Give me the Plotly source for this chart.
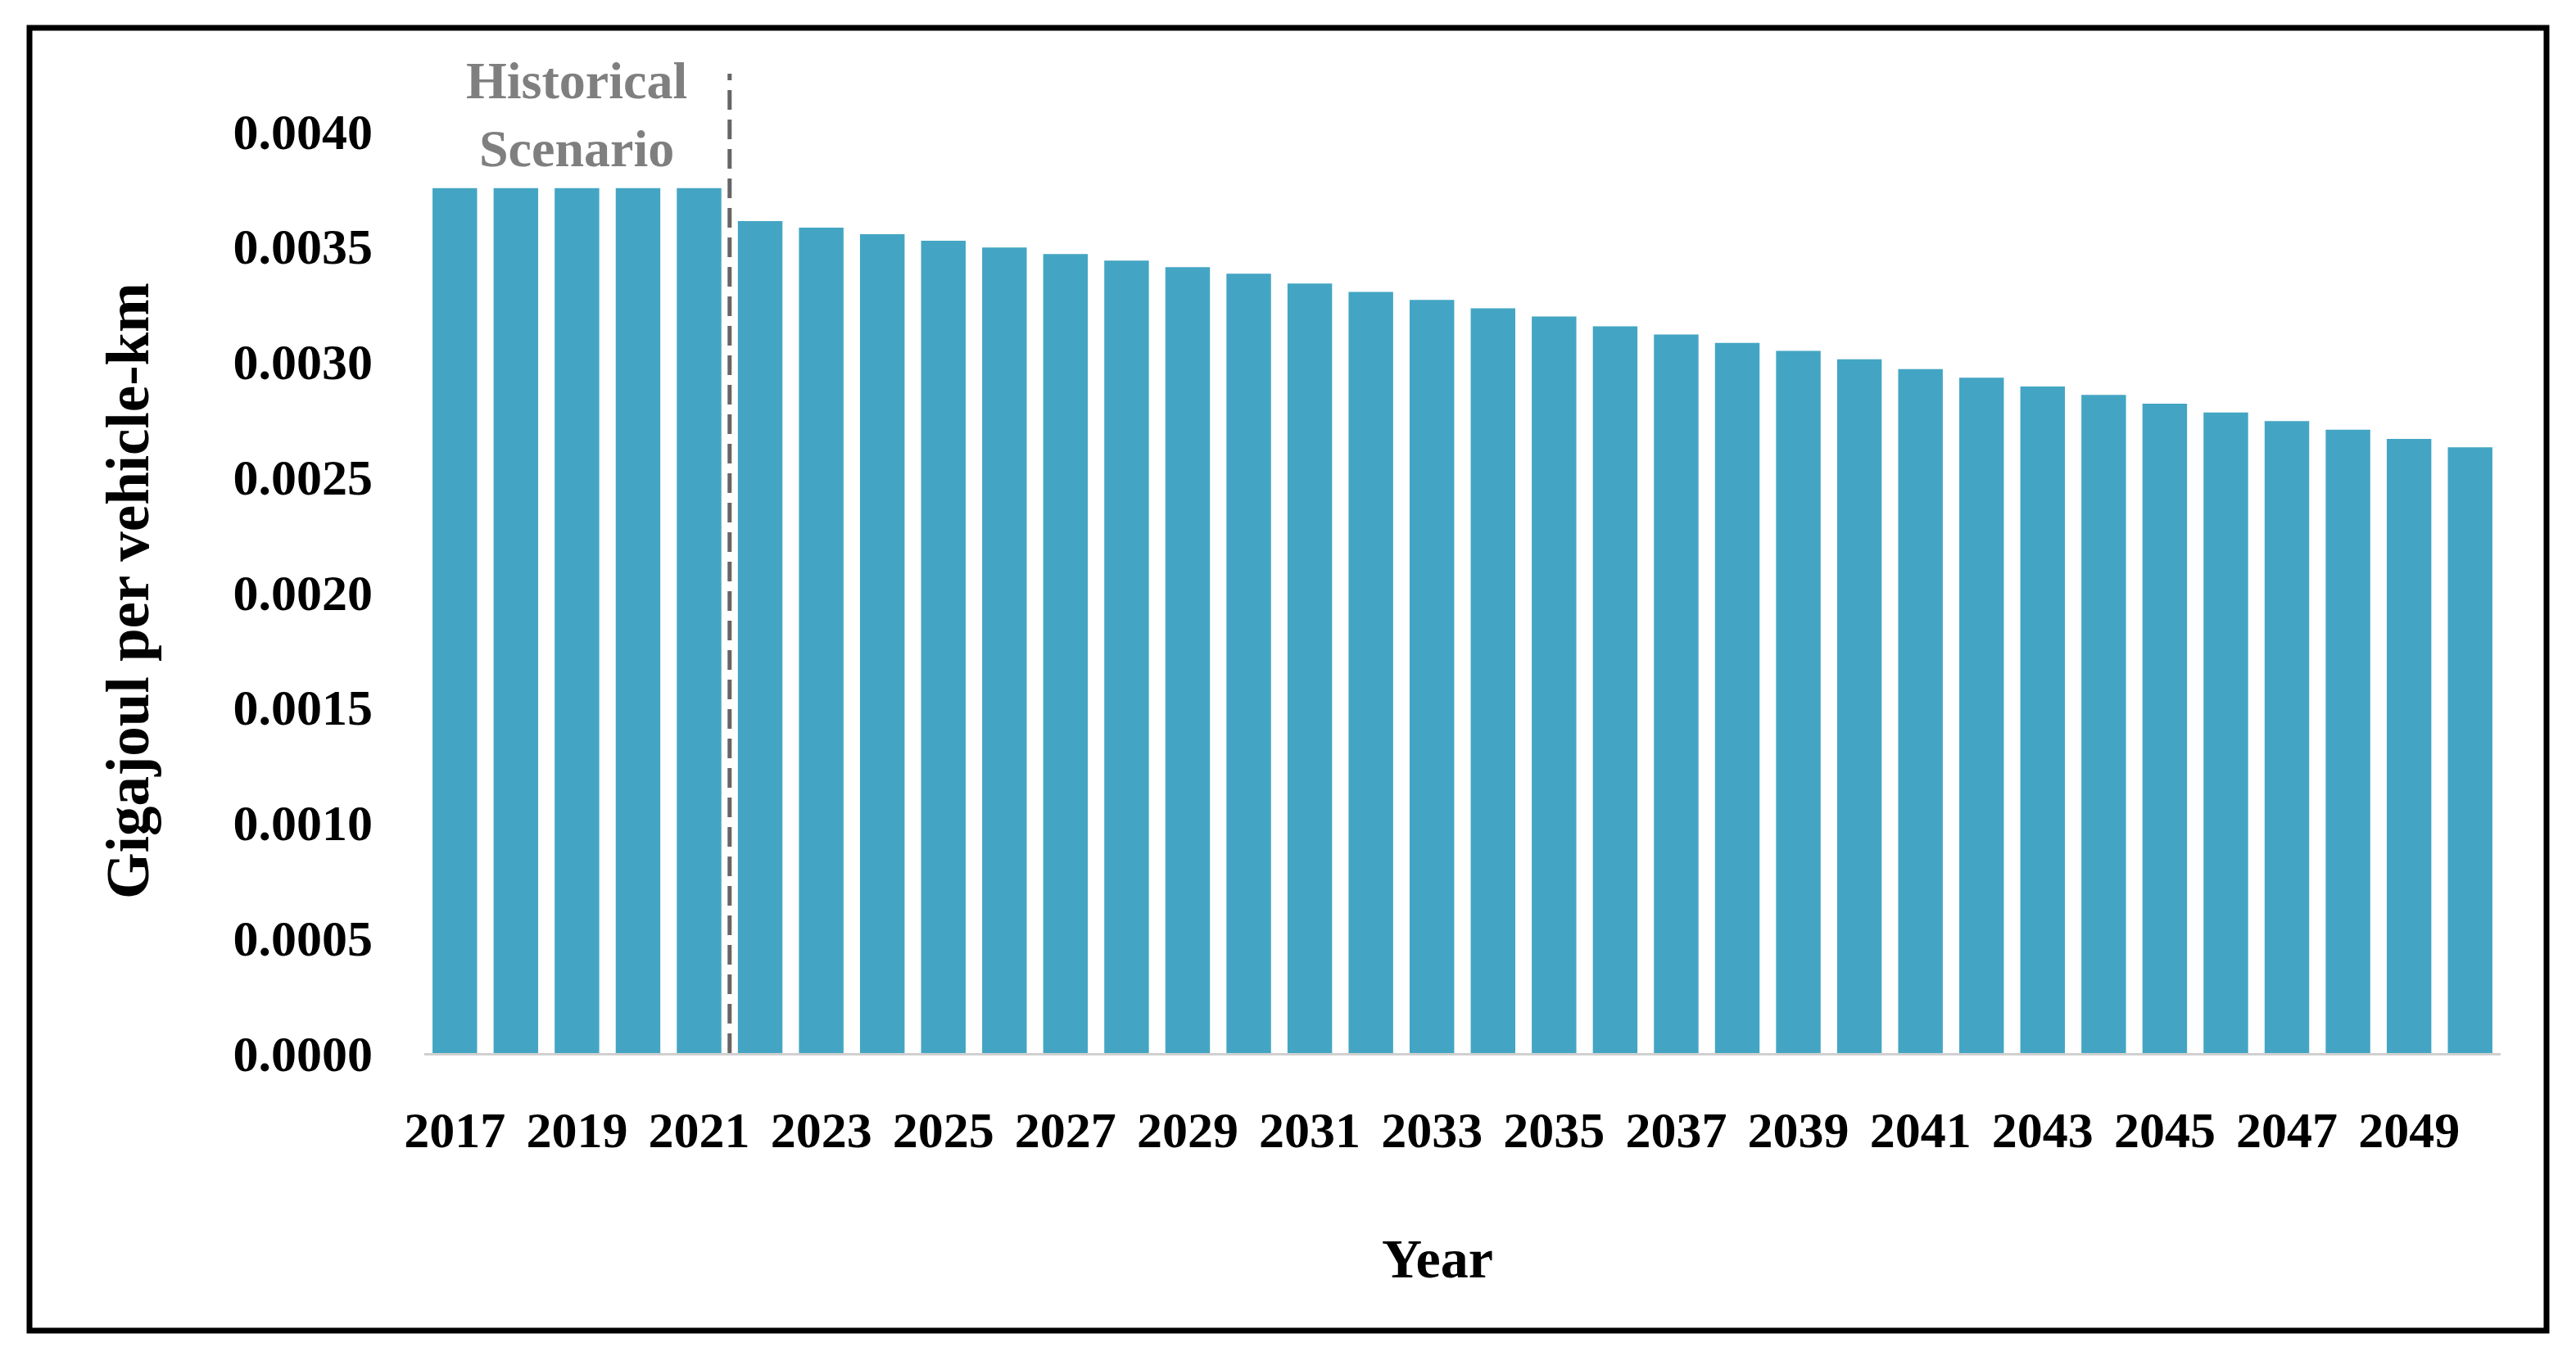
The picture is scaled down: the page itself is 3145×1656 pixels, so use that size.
import plotly.graph_objects as go

years = list(range(2017, 2051))
values = [0.003752, 0.003752, 0.003752, 0.003752, 0.003752,
          0.003609, 0.003581, 0.003552, 0.003524, 0.003495,
          0.003466, 0.003438, 0.003409, 0.003381, 0.003338,
          0.003302, 0.003267, 0.003231, 0.003195, 0.003153,
          0.003117, 0.003081, 0.003046, 0.003010, 0.002967,
          0.002930, 0.002892, 0.002855, 0.002817, 0.002779,
          0.002742, 0.002704, 0.002664, 0.002628]
y_ticks = [0.0, 0.0005, 0.0010, 0.0015, 0.0020, 0.0025, 0.0030, 0.0035, 0.0040]
y_tick_labels = ["0.0000", "0.0005", "0.0010", "0.0015", "0.0020",
                 "0.0025", "0.0030", "0.0035", "0.0040"]
split_year = 2021.5

FONT = "Palatino Linotype, Book Antiqua, Palatino, Liberation Serif, serif"
BAR_COLOR = "#43A5C3"

fig = go.Figure()
fig.add_trace(go.Bar(x=years, y=values, marker=dict(color=BAR_COLOR, line=dict(width=0)),
                     showlegend=False))

OFF = 8  # page offset of the figure
W, H = 3145, 1656
# target plot area in screen pixels
SX0, SX1, SY0, SY1 = 518, 3053, 160, 1286
L = SX0 - OFF
R = W - (SX1 - OFF)
T = SY0 - OFF
B = H - (SY1 - OFF)
pw, ph = SX1 - SX0, SY1 - SY0

def px(xs):
    return (xs - SX0) / pw

def py(ys):
    return (SY1 - ys) / ph

fig.update_layout(
    width=W, height=H,
    margin=dict(l=L, r=R, t=T, b=B, autoexpand=False),
    paper_bgcolor="white", plot_bgcolor="white",
    bargap=0.27,
    font=dict(family=FONT, color="black"),
    xaxis=dict(
        range=[2016.5, 2050.5], tickmode="linear", tick0=2017, dtick=2,
        showgrid=False, zeroline=False, showline=True, linecolor="#d0d0d0", linewidth=3,
        ticks="", ticklabelstandoff=38,
        tickfont=dict(family=FONT, size=62, color="black", weight="bold"),
    ),
    yaxis=dict(
        range=[0, 0.004], tickmode="array", tickvals=y_ticks, ticktext=y_tick_labels,
        showgrid=False, zeroline=False, showline=False, ticks="", ticklabelstandoff=62,
        tickfont=dict(family=FONT, size=62, color="black", weight="bold"),
    ),
)

# dashed split line
fig.add_shape(type="line", xref="x", yref="paper", x0=split_year, x1=split_year,
              y0=0, y1=py(90), line=dict(color="#666666", width=5, dash="24px,12px"))

# frame
fig.add_shape(type="rect", xref="paper", yref="paper",
              x0=px(36), x1=px(3109), y0=py(1625), y1=py(34),
              line=dict(color="black", width=7), fillcolor="rgba(0,0,0,0)")

fig.add_annotation(text="<b>Historical<br>Scenario</b>", xref="x", yref="paper",
                   x=2019, y=py(140), xanchor="center", yanchor="middle", showarrow=False,
                   font=dict(family=FONT, size=64, color="#7f7f7f"))

fig.add_annotation(text="<b>Year</b>", xref="paper", yref="paper",
                   x=px(1755), y=py(1537), xanchor="center", yanchor="middle", showarrow=False,
                   font=dict(family=FONT, size=68, color="black"))

fig.add_annotation(text="<b>Gigajoul per vehicle-km</b>", xref="paper", yref="paper",
                   x=px(156), y=py(722), xanchor="center", yanchor="middle", showarrow=False,
                   textangle=-90, font=dict(family=FONT, size=73, color="black"))

fig.write_html("out.html")
